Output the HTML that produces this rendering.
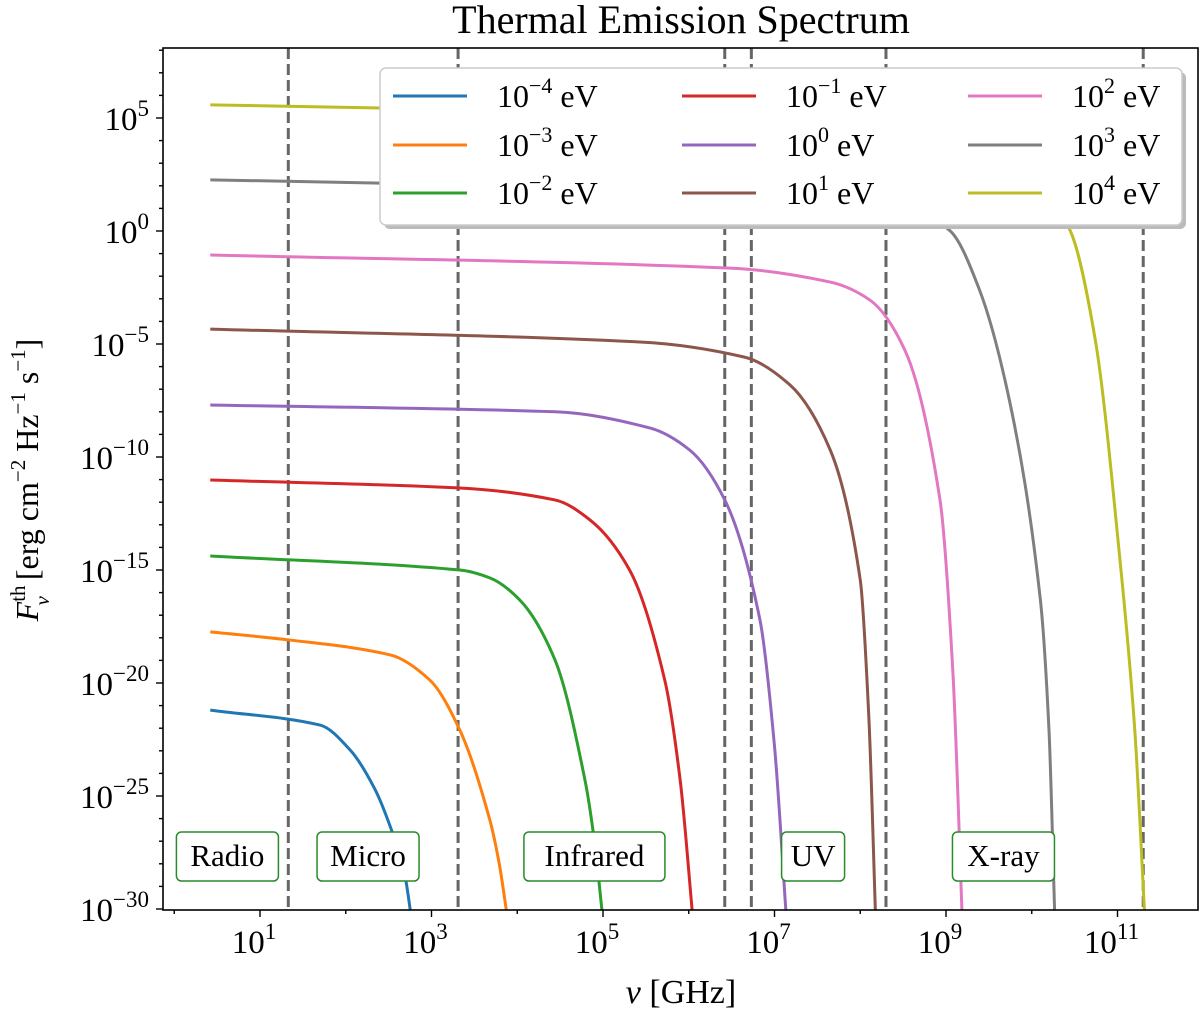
<!DOCTYPE html>
<html><head><meta charset="utf-8">
<style>
body{margin:0;background:#fff;}
svg text{font-family:"Liberation Serif","DejaVu Serif",serif;fill:#000;}
</style></head>
<body>
<svg id="chart" width="1200" height="1016" viewBox="0 0 1200 1016" xmlns="http://www.w3.org/2000/svg">
<defs><clipPath id="pc"><rect x="163" y="48" width="1035" height="862"/></clipPath></defs>
<text x="681" y="33" font-size="40" text-anchor="middle">Thermal Emission Spectrum</text>
<g id="dashes"></g>
<g id="series" clip-path="url(#pc)"></g>
<g id="bands"></g>
<rect x="163" y="48" width="1035" height="862" fill="none" stroke="#000" stroke-width="1.6"/>
<g id="axes"></g>
<g id="legend"></g>
<text x="681" y="1003" font-size="34" text-anchor="middle"><tspan font-style="italic">ν</tspan> [GHz]</text>
<text transform="translate(38,480) rotate(-90)" font-size="32" text-anchor="middle"><tspan font-style="italic">F</tspan><tspan font-size="21" dy="-13">th</tspan><tspan font-size="21" font-style="italic" dx="-20" dy="24">ν</tspan><tspan dy="-11" dx="8"> [erg cm</tspan><tspan font-size="21" dy="-13">−2</tspan><tspan dy="13"> Hz</tspan><tspan font-size="21" dy="-13">−1</tspan><tspan dy="13"> s</tspan><tspan font-size="21" dy="-13">−1</tspan><tspan dy="13">]</tspan></text>
</svg>
<script>
const seriesLabels=["-4","-3","-2","-1","0","1","2","3","4"];
const seriesColors=["#1f77b4","#ff7f0e","#2ca02c","#d62728","#9467bd","#8c564b","#e377c2","#7f7f7f","#bcbd22"];
const s0X=[0.42,1.70,2.05,2.34,2.57,2.68,2.77];
const s0Y=[-21.2,-21.86,-22.96,-24.7,-26.9,-28.3,-30.5];
const s1X=[0.42,1.35,2.52,2.98,3.33,3.68,3.79,3.89];
const s1Y=[-17.74,-18.1,-18.76,-19.87,-22.08,-26.06,-28.0,-30.5];
const s2X=[0.42,3.33,3.68,4.03,4.44,4.79,4.9,5.0];
const s2Y=[-14.38,-15.0,-15.35,-16.33,-18.98,-24.3,-27.0,-30.5];
const s3X=[0.42,3.33,4.44,4.85,5.31,5.72,5.9,6.05];
const s3Y=[-11.02,-11.37,-11.9,-12.79,-15.0,-19.87,-24.3,-30.5];
const s4X=[0.42,4.44,5.55,6.01,6.42,6.83,7.0,7.14];
const s4Y=[-7.7,-8.0,-8.72,-9.69,-11.9,-17.2,-22.8,-30.5];
const s5X=[0.42,5.43,6.65,7.18,7.65,8.0,8.1,8.18];
const s5Y=[-4.34,-4.91,-5.58,-6.81,-9.69,-15.44,-21.5,-30.5];
const s6X=[0.42,6.48,7.65,8.11,8.52,8.93,9.08,9.19];
const s6Y=[-1.06,-1.64,-2.26,-3.05,-5.27,-11.9,-19.5,-30.5];
const s7X=[0.42,2.4,8.0,8.6,9.05,9.39,9.74,10.1,10.2,10.27];
const s7Y=[2.26,2.12,1.4,1.0,0.0,-2.6,-7.5,-16.3,-22.0,-30.5];
const s8X=[0.42,2.4,9.0,9.9,10.45,10.74,11.03,11.2,11.32];
const s8Y=[5.58,5.44,4.7,3.0,0.0,-4.8,-14.6,-22.0,-30.5];
const allX=[s0X,s1X,s2X,s3X,s4X,s5X,s6X,s7X,s8X];
const allY=[s0Y,s1Y,s2Y,s3Y,s4Y,s5Y,s6Y,s7Y,s8Y];
const boundaries=[1.33,3.31,6.42,6.73,8.30,11.30];
const bandNames=["Radio","Micro","Infrared","UV","X-ray"];
const bandCenters=[0.62,2.26,4.9,7.45,9.67];
const xTicks=[1,3,5,7,9,11];
const yTicks=[5,0,-5,-10,-15,-20,-25,-30];

const NS="http://www.w3.org/2000/svg";
const X=l=>174.25+85.75*l;
const Y=l=>231-22.6*l;
function mk(t,a,p){const e=document.createElementNS(NS,t);for(const k in a)e.setAttribute(k,a[k]);p.appendChild(e);return e;}

function path(xs,ys){
  const px=xs.map(X),py=ys.map(Y),n=px.length;
  const d=[],m=[];
  for(let i=0;i<n-1;i++)d.push((py[i+1]-py[i])/(px[i+1]-px[i]));
  m[0]=d[0];m[n-1]=d[n-2];
  for(let i=1;i<n-1;i++){m[i]=d[i-1]*d[i]<=0?0:2/(1/d[i-1]+1/d[i]);}
  let s="M"+px[0]+","+py[0];
  for(let i=0;i<n-1;i++){const h=px[i+1]-px[i];
    s+=" C"+(px[i]+h/3)+","+(py[i]+m[i]*h/3)+" "+(px[i+1]-h/3)+","+(py[i+1]-m[i+1]*h/3)+" "+px[i+1]+","+py[i+1];}
  return s;
}
const dg=document.getElementById('dashes');
boundaries.forEach(b=>{const l=mk('line',{x1:X(b),x2:X(b),y1:48,y2:910,stroke:'#666','stroke-width':3,'stroke-dasharray':'11,5'},dg);

});
const sg=document.getElementById('series');
allX.forEach((xs,i)=>{const p=mk('path',{d:path(xs,allY[i]),fill:'none',stroke:seriesColors[i],'stroke-width':3},sg);

});
const bg=document.getElementById('bands');
bandNames.forEach((n,i)=>{const cx=X(bandCenters[i]);const w=n.length*13+37;
const r=mk('rect',{x:cx-w/2,y:832,width:w,height:49,rx:5,fill:'#fff',stroke:'#2a8a2a','stroke-width':1.5},bg);


const t=mk('text',{x:cx,y:866,'font-size':31,'text-anchor':'middle'},bg);t.textContent=n;

});
const ag=document.getElementById('axes');
for(let d=0;d<=11;d++){const x=X(d);const maj=xTicks.includes(d);
mk('line',{x1:x,x2:x,y1:910,y2:910+(maj?7:4),stroke:'#000','stroke-width':1.4},ag);}
xTicks.forEach(v=>{const t=mk('text',{x:X(v)-6,y:953,'font-size':33,'text-anchor':'middle'},ag);
t.innerHTML='10<tspan font-size="23" dy="-14">'+v+'</tspan>';

});
for(let d=-30;d<=8;d++){const y=Y(d);if(y<48||y>910)continue;const maj=yTicks.includes(d);
mk('line',{x1:163,x2:163-(maj?7:4),y1:y,y2:y,stroke:'#000','stroke-width':1.4},ag);}
yTicks.forEach(v=>{const t=mk('text',{x:149,y:Y(v)+12,'font-size':33,'text-anchor':'end'},ag);
t.innerHTML='10<tspan font-size="23" dy="-14">'+(v<0?'−'+(-v):v)+'</tspan>';

});
const lg=document.getElementById('legend');
mk('rect',{x:384,y:72,width:802,height:157,rx:6,fill:'#bbb'},lg);
mk('rect',{x:380,y:68,width:802,height:157,rx:6,fill:'#fff',stroke:'#ccc','stroke-width':1.5},lg);
const colX=[393,682,968],rowY=[96,145,193];
seriesLabels.forEach((s,i)=>{const c=Math.floor(i/3),r=i%3;
const l=mk('line',{x1:colX[c],x2:colX[c]+74,y1:rowY[r],y2:rowY[r],stroke:seriesColors[i],'stroke-width':3},lg);


const t=mk('text',{x:colX[c]+104,y:rowY[r]+11,'font-size':32},lg);
t.innerHTML='10<tspan font-size="22" dy="-14">'+s.replace('-','−')+'</tspan><tspan dy="14"> eV</tspan>';

});
</script>
</body></html>
